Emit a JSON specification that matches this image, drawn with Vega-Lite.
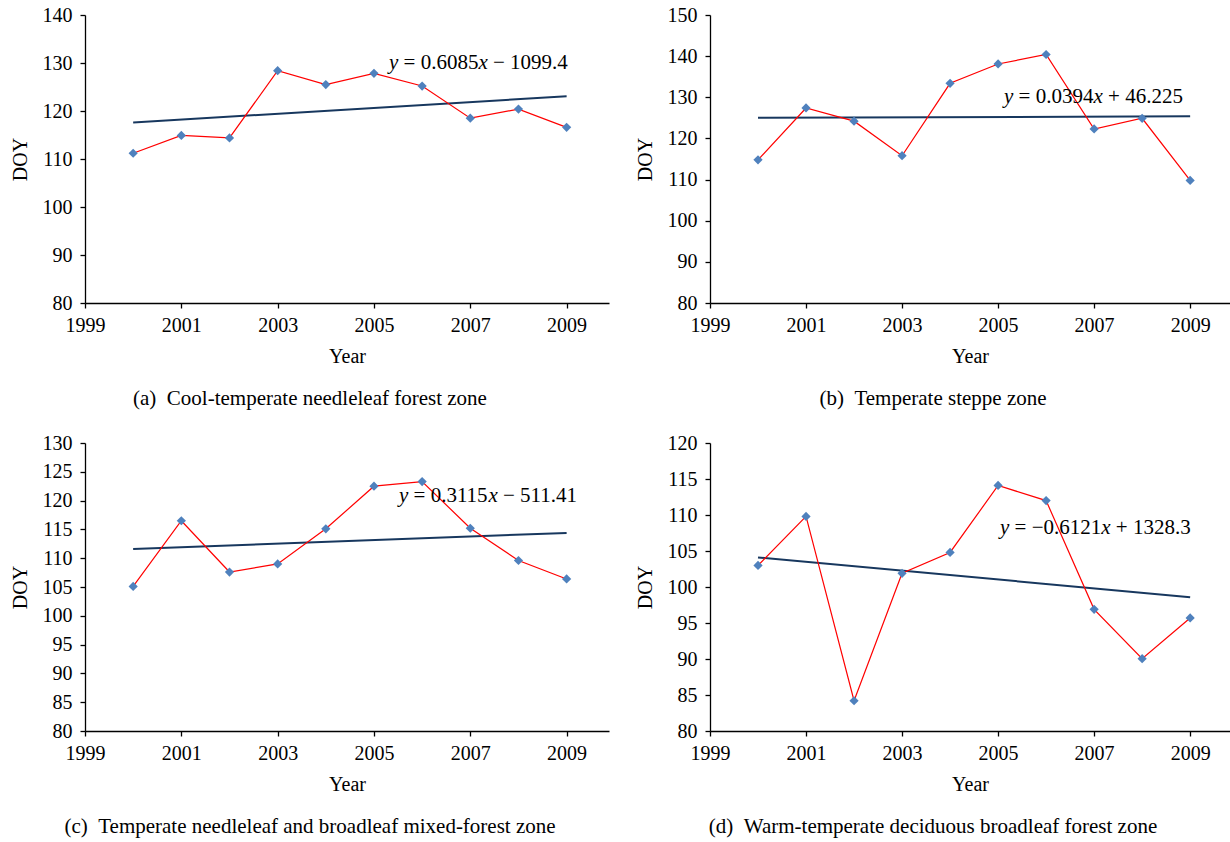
{
  "$schema": "https://vega.github.io/schema/vega-lite/v6.json",
  "autosize": {"type": "none"},
  "padding": {"left": 85, "top": 15, "right": 1145, "bottom": 827},
  "background": "white",
  "columns": 2,
  "bounds": "flush",
  "spacing": {"row": 140, "column": 101},
  "datasets": {
    "pts": [
      {"panel": "a", "year": 2000, "doy": 111.2},
      {"panel": "a", "year": 2001, "doy": 114.9},
      {"panel": "a", "year": 2002, "doy": 114.4},
      {"panel": "a", "year": 2003, "doy": 128.4},
      {"panel": "a", "year": 2004, "doy": 125.5},
      {"panel": "a", "year": 2005, "doy": 127.85},
      {"panel": "a", "year": 2006, "doy": 125.2},
      {"panel": "a", "year": 2007, "doy": 118.5},
      {"panel": "a", "year": 2008, "doy": 120.4},
      {"panel": "a", "year": 2009, "doy": 116.6},
      {"panel": "b", "year": 2000, "doy": 114.8},
      {"panel": "b", "year": 2001, "doy": 127.4},
      {"panel": "b", "year": 2002, "doy": 124.2},
      {"panel": "b", "year": 2003, "doy": 115.8},
      {"panel": "b", "year": 2004, "doy": 133.4},
      {"panel": "b", "year": 2005, "doy": 138.1},
      {"panel": "b", "year": 2006, "doy": 140.4},
      {"panel": "b", "year": 2007, "doy": 122.3},
      {"panel": "b", "year": 2008, "doy": 124.9},
      {"panel": "b", "year": 2009, "doy": 109.8},
      {"panel": "c", "year": 2000, "doy": 105.1},
      {"panel": "c", "year": 2001, "doy": 116.5},
      {"panel": "c", "year": 2002, "doy": 107.6},
      {"panel": "c", "year": 2003, "doy": 109.0},
      {"panel": "c", "year": 2004, "doy": 115.1},
      {"panel": "c", "year": 2005, "doy": 122.5},
      {"panel": "c", "year": 2006, "doy": 123.3},
      {"panel": "c", "year": 2007, "doy": 115.2},
      {"panel": "c", "year": 2008, "doy": 109.6},
      {"panel": "c", "year": 2009, "doy": 106.4},
      {"panel": "d", "year": 2000, "doy": 103.0},
      {"panel": "d", "year": 2001, "doy": 109.8},
      {"panel": "d", "year": 2002, "doy": 84.2},
      {"panel": "d", "year": 2003, "doy": 101.9},
      {"panel": "d", "year": 2004, "doy": 104.8},
      {"panel": "d", "year": 2005, "doy": 114.1},
      {"panel": "d", "year": 2006, "doy": 112.0},
      {"panel": "d", "year": 2007, "doy": 96.9},
      {"panel": "d", "year": 2008, "doy": 90.05},
      {"panel": "d", "year": 2009, "doy": 95.7}
    ],
    "trend": [
      {"panel": "a", "year": 2000, "doy": 117.6},
      {"panel": "a", "year": 2009, "doy": 123.08},
      {"panel": "b", "year": 2000, "doy": 125.03},
      {"panel": "b", "year": 2009, "doy": 125.37},
      {"panel": "c", "year": 2000, "doy": 111.59},
      {"panel": "c", "year": 2009, "doy": 114.39},
      {"panel": "d", "year": 2000, "doy": 104.1},
      {"panel": "d", "year": 2009, "doy": 98.59}
    ],
    "eq": [
      {"panel": "a", "style": "italic", "year": 2005.31, "doy": 130.0, "label": "y"},
      {"panel": "a", "style": "normal", "year": 2005.615, "doy": 130.0, "label": "= 0.6085"},
      {"panel": "a", "style": "italic", "year": 2007.169, "doy": 130.0, "label": "x"},
      {"panel": "a", "style": "normal", "year": 2007.471, "doy": 130.0, "label": "− 1099.4"},
      {"panel": "b", "style": "italic", "year": 2005.124, "doy": 130.1, "label": "y"},
      {"panel": "b", "style": "normal", "year": 2005.427, "doy": 130.1, "label": "= 0.0394"},
      {"panel": "b", "style": "italic", "year": 2006.986, "doy": 130.1, "label": "x"},
      {"panel": "b", "style": "normal", "year": 2007.29, "doy": 130.1, "label": "+ 46.225"},
      {"panel": "c", "style": "italic", "year": 2005.52, "doy": 120.75, "label": "y"},
      {"panel": "c", "style": "normal", "year": 2005.822, "doy": 120.75, "label": "= 0.3115"},
      {"panel": "c", "style": "italic", "year": 2007.376, "doy": 120.75, "label": "x"},
      {"panel": "c", "style": "normal", "year": 2007.679, "doy": 120.75, "label": "− 511.41"},
      {"panel": "d", "style": "italic", "year": 2005.04, "doy": 108.2, "label": "y"},
      {"panel": "d", "style": "normal", "year": 2005.344, "doy": 108.2, "label": "= −0.6121"},
      {"panel": "d", "style": "italic", "year": 2007.149, "doy": 108.2, "label": "x"},
      {"panel": "d", "style": "normal", "year": 2007.453, "doy": 108.2, "label": "+ 1328.3"}
    ]
  },
  "concat": [
    {
      "width": 524, "height": 288,
      "title": {"text": "(a)\u00a0\u00a0Cool-temperate needleleaf forest zone", "orient": "bottom", "dx": -37, "offset": 22},
      "encoding": {
        "x": {"field": "year", "type": "quantitative", "scale": {"domain": [1999, 2009.88], "nice": false, "zero": false},
              "axis": {"values": [1999, 2001, 2003, 2005, 2007, 2009], "format": "d", "title": "Year"}},
        "y": {"field": "doy", "type": "quantitative", "scale": {"domain": [80, 140], "nice": false, "zero": false},
              "axis": {"values": [80, 90, 100, 110, 120, 130, 140], "title": "DOY"}}
      },
      "layer": [
        {"data": {"name": "trend"}, "transform": [{"filter": "datum.panel === 'a'"}], "mark": {"type": "line", "color": "#17375e", "strokeWidth": 2}},
        {"data": {"name": "pts"}, "transform": [{"filter": "datum.panel === 'a'"}], "mark": {"type": "line", "color": "#ff0000", "strokeWidth": 1.2}},
        {"data": {"name": "pts"}, "transform": [{"filter": "datum.panel === 'a'"}], "mark": {"type": "point", "shape": "diamond", "filled": true, "size": 85, "color": "#4f81bd", "opacity": 1}},
        {"data": {"name": "eq"}, "transform": [{"filter": "datum.panel === 'a' && datum.style === 'normal'"}], "mark": {"type": "text", "align": "left", "baseline": "middle", "font": "Liberation Serif", "fontSize": 21, "color": "black"}, "encoding": {"text": {"field": "label"}}},
        {"data": {"name": "eq"}, "transform": [{"filter": "datum.panel === 'a' && datum.style === 'italic'"}], "mark": {"type": "text", "align": "left", "baseline": "middle", "font": "Liberation Serif", "fontStyle": "italic", "fontSize": 21, "color": "black"}, "encoding": {"text": {"field": "label"}}}
      ]
    },
    {
      "width": 520, "height": 288,
      "title": {"text": "(b)\u00a0\u00a0Temperate steppe zone", "orient": "bottom", "dx": -37, "offset": 22},
      "encoding": {
        "x": {"field": "year", "type": "quantitative", "scale": {"domain": [1999, 2009.83], "nice": false, "zero": false},
              "axis": {"values": [1999, 2001, 2003, 2005, 2007, 2009], "format": "d", "title": "Year"}},
        "y": {"field": "doy", "type": "quantitative", "scale": {"domain": [80, 150], "nice": false, "zero": false},
              "axis": {"values": [80, 90, 100, 110, 120, 130, 140, 150], "title": "DOY"}}
      },
      "layer": [
        {"data": {"name": "trend"}, "transform": [{"filter": "datum.panel === 'b'"}], "mark": {"type": "line", "color": "#17375e", "strokeWidth": 2}},
        {"data": {"name": "pts"}, "transform": [{"filter": "datum.panel === 'b'"}], "mark": {"type": "line", "color": "#ff0000", "strokeWidth": 1.2}},
        {"data": {"name": "pts"}, "transform": [{"filter": "datum.panel === 'b'"}], "mark": {"type": "point", "shape": "diamond", "filled": true, "size": 85, "color": "#4f81bd", "opacity": 1}},
        {"data": {"name": "eq"}, "transform": [{"filter": "datum.panel === 'b' && datum.style === 'normal'"}], "mark": {"type": "text", "align": "left", "baseline": "middle", "font": "Liberation Serif", "fontSize": 21, "color": "black"}, "encoding": {"text": {"field": "label"}}},
        {"data": {"name": "eq"}, "transform": [{"filter": "datum.panel === 'b' && datum.style === 'italic'"}], "mark": {"type": "text", "align": "left", "baseline": "middle", "font": "Liberation Serif", "fontStyle": "italic", "fontSize": 21, "color": "black"}, "encoding": {"text": {"field": "label"}}}
      ]
    },
    {
      "width": 524, "height": 288,
      "title": {"text": "(c)\u00a0\u00a0Temperate needleleaf and broadleaf mixed-forest zone", "orient": "bottom", "dx": -37, "offset": 22},
      "encoding": {
        "x": {"field": "year", "type": "quantitative", "scale": {"domain": [1999, 2009.88], "nice": false, "zero": false},
              "axis": {"values": [1999, 2001, 2003, 2005, 2007, 2009], "format": "d", "title": "Year"}},
        "y": {"field": "doy", "type": "quantitative", "scale": {"domain": [80, 130], "nice": false, "zero": false},
              "axis": {"values": [80, 85, 90, 95, 100, 105, 110, 115, 120, 125, 130], "title": "DOY"}}
      },
      "layer": [
        {"data": {"name": "trend"}, "transform": [{"filter": "datum.panel === 'c'"}], "mark": {"type": "line", "color": "#17375e", "strokeWidth": 2}},
        {"data": {"name": "pts"}, "transform": [{"filter": "datum.panel === 'c'"}], "mark": {"type": "line", "color": "#ff0000", "strokeWidth": 1.2}},
        {"data": {"name": "pts"}, "transform": [{"filter": "datum.panel === 'c'"}], "mark": {"type": "point", "shape": "diamond", "filled": true, "size": 85, "color": "#4f81bd", "opacity": 1}},
        {"data": {"name": "eq"}, "transform": [{"filter": "datum.panel === 'c' && datum.style === 'normal'"}], "mark": {"type": "text", "align": "left", "baseline": "middle", "font": "Liberation Serif", "fontSize": 21, "color": "black"}, "encoding": {"text": {"field": "label"}}},
        {"data": {"name": "eq"}, "transform": [{"filter": "datum.panel === 'c' && datum.style === 'italic'"}], "mark": {"type": "text", "align": "left", "baseline": "middle", "font": "Liberation Serif", "fontStyle": "italic", "fontSize": 21, "color": "black"}, "encoding": {"text": {"field": "label"}}}
      ]
    },
    {
      "width": 520, "height": 288,
      "title": {"text": "(d)\u00a0\u00a0Warm-temperate deciduous broadleaf forest zone", "orient": "bottom", "dx": -37, "offset": 22},
      "encoding": {
        "x": {"field": "year", "type": "quantitative", "scale": {"domain": [1999, 2009.83], "nice": false, "zero": false},
              "axis": {"values": [1999, 2001, 2003, 2005, 2007, 2009], "format": "d", "title": "Year"}},
        "y": {"field": "doy", "type": "quantitative", "scale": {"domain": [80, 120], "nice": false, "zero": false},
              "axis": {"values": [80, 85, 90, 95, 100, 105, 110, 115, 120], "title": "DOY"}}
      },
      "layer": [
        {"data": {"name": "trend"}, "transform": [{"filter": "datum.panel === 'd'"}], "mark": {"type": "line", "color": "#17375e", "strokeWidth": 2}},
        {"data": {"name": "pts"}, "transform": [{"filter": "datum.panel === 'd'"}], "mark": {"type": "line", "color": "#ff0000", "strokeWidth": 1.2}},
        {"data": {"name": "pts"}, "transform": [{"filter": "datum.panel === 'd'"}], "mark": {"type": "point", "shape": "diamond", "filled": true, "size": 85, "color": "#4f81bd", "opacity": 1}},
        {"data": {"name": "eq"}, "transform": [{"filter": "datum.panel === 'd' && datum.style === 'normal'"}], "mark": {"type": "text", "align": "left", "baseline": "middle", "font": "Liberation Serif", "fontSize": 21, "color": "black"}, "encoding": {"text": {"field": "label"}}},
        {"data": {"name": "eq"}, "transform": [{"filter": "datum.panel === 'd' && datum.style === 'italic'"}], "mark": {"type": "text", "align": "left", "baseline": "middle", "font": "Liberation Serif", "fontStyle": "italic", "fontSize": 21, "color": "black"}, "encoding": {"text": {"field": "label"}}}
      ]
    }
  ],
  "config": {
    "view": {"stroke": null},
    "font": "Liberation Serif",
    "axis": {
      "grid": false,
      "domainColor": "black",
      "domainWidth": 1.3,
      "tickColor": "black",
      "tickWidth": 1.3,
      "tickSize": 5,
      "labelFont": "Liberation Serif",
      "labelFontSize": 20,
      "labelColor": "black",
      "labelFlush": false,
      "labelOverlap": false,
      "titleFont": "Liberation Serif",
      "titleFontSize": 20,
      "titleFontWeight": "normal",
      "titleColor": "black"
    },
    "axisX": {"labelPadding": 7, "titlePadding": 11},
    "axisY": {"labelPadding": 8, "titlePadding": 12},
    "title": {"font": "Liberation Serif", "fontSize": 21, "fontWeight": "normal", "color": "black", "anchor": "middle"}
  }
}
